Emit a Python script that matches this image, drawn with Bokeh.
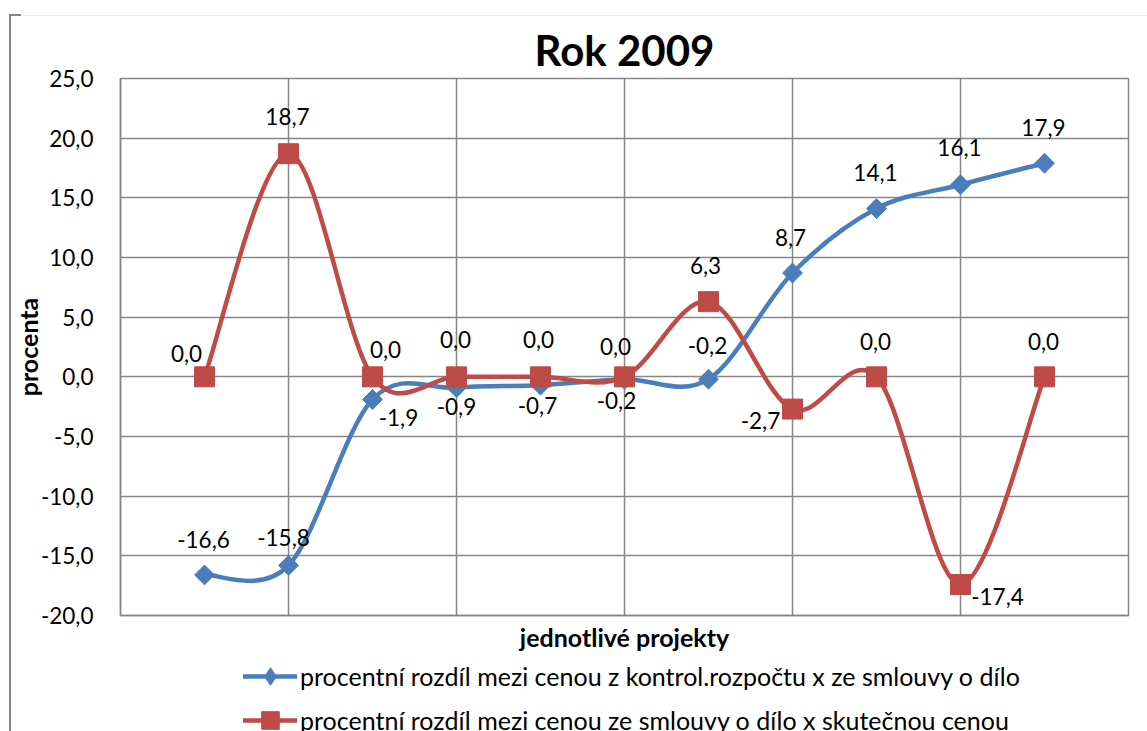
import numpy as np
from bokeh.plotting import figure
from bokeh.layouts import column
from bokeh.models import (ColumnDataSource, LabelSet, Legend, LegendItem, FixedTicker, Range1d,
                          InlineStyleSheet)
from bokeh.core.properties import value
from bokeh.embed import file_html
from bokeh.resources import INLINE

# ---------------- data ----------------
title_text = "Rok 2009"
y_axis_title = "procenta"
x_axis_title = "jednotlivé projekty"
series_names = [
    "procentní rozdíl mezi cenou z kontrol.rozpočtu x ze smlouvy o dílo",
    "procentní rozdíl mezi cenou ze smlouvy o dílo x skutečnou cenou",
]
projects = [1, 2, 3, 4, 5, 6, 7, 8, 9, 10, 11]
blue_values = [-16.6, -15.8, -1.9, -0.9, -0.7, -0.2, -0.2, 8.7, 14.1, 16.1, 17.9]
red_values = [0.0, 18.7, 0.0, 0.0, 0.0, 0.0, 6.3, -2.7, 0.0, -17.4, 0.0]
y_ticks = [-20, -15, -10, -5, 0, 5, 10, 15, 20, 25]
y_tick_labels = ["-20,0", "-15,0", "-10,0", "-5,0", "0,0", "5,0", "10,0", "15,0", "20,0", "25,0"]
x_grid_ticks = [0, 2, 4, 6, 8, 10, 12]

# label offsets (screen px) – styling only
blue_dx = [-1, -5, 26, 0, -3, -8, -1, -2, -1, -1, -1]
blue_dy = [35, 28, -18, -19, -20, -21, 34, 36, 36, 37, 36]
red_dx = [-18, -1, 13, -1, -2, -9, -3, -32, -1, 37, -1]
red_dy = [23, 37, 27, 37, 37, 30, 36, -11, 35, -12, 35]

BLUE = "#4A7EBB"
RED = "#BE4B48"
GRID = "#868686"
FONT = "Lato"
W = 1147
MAIN_H = 655
LEG_H = 76


def smooth_segments(xs, ys):
    x = np.asarray(xs, float)
    y = np.asarray(ys, float)
    n = len(x)
    xp = np.concatenate([[x[0]], x, [x[-1]]])
    yp = np.concatenate([[y[0]], y, [y[-1]]])
    return dict(
        x0=x[:-1], y0=y[:-1], x1=x[1:], y1=y[1:],
        cx0=x[:-1] + (xp[2:n + 1] - xp[0:n - 1]) / 6.0,
        cy0=y[:-1] + (yp[2:n + 1] - yp[0:n - 1]) / 6.0,
        cx1=x[1:] - (xp[3:n + 2] - xp[1:n]) / 6.0,
        cy1=y[1:] - (yp[3:n + 2] - yp[1:n]) / 6.0,
    )


def fmt(v):
    return f"{v:.1f}".replace(".", ",")


def add_series(fig, vals, color, marker, size, angle):
    seg = ColumnDataSource(smooth_segments(projects, vals))
    ln = fig.bezier(x0="x0", y0="y0", x1="x1", y1="y1", cx0="cx0", cy0="cy0", cx1="cx1", cy1="cy1",
                    source=seg, line_color=color, line_width=4.5, line_cap="round")
    src = ColumnDataSource(dict(x=projects, y=vals))
    mk = fig.scatter(x="x", y="y", source=src, marker=marker, size=size, angle=angle,
                     fill_color=color, line_color=color, line_width=1)
    return [ln, mk]


# ---------------- main chart ----------------
p = figure(width=W, height=MAIN_H, output_backend="svg", toolbar_location=None,
           x_range=Range1d(0, 12), y_range=Range1d(-20, 25),
           min_border_left=120, min_border_right=19, min_border_top=78, min_border_bottom=40,
           background_fill_color="white", border_fill_color="white")

p.title.text = title_text
p.title.align = "center"
p.title.text_font = FONT
p.title.text_font_size = "42px"
p.title.text_font_style = "bold"
p.title.text_color = "black"
p.title.standoff = 8

p.outline_line_color = GRID
p.outline_line_width = 1.5

p.yaxis.ticker = FixedTicker(ticks=y_ticks)
p.yaxis.major_label_overrides = {t: l for t, l in zip(y_ticks, y_tick_labels)}
p.yaxis.major_label_text_font = FONT
p.yaxis.major_label_text_font_size = "22.5px"
p.yaxis.major_label_text_color = "black"
p.yaxis.major_label_standoff = 27
p.yaxis.axis_label = y_axis_title
p.yaxis.axis_label_text_font = FONT
p.yaxis.axis_label_text_font_size = "25px"
p.yaxis.axis_label_text_font_style = "bold"
p.yaxis.axis_label_text_color = "black"
p.yaxis.axis_label_standoff = -5

p.xaxis.ticker = FixedTicker(ticks=[])
p.xgrid.ticker = FixedTicker(ticks=x_grid_ticks)
p.xaxis.major_label_standoff = 0
p.xaxis.axis_label = x_axis_title
p.xaxis.axis_label_text_font = FONT
p.xaxis.axis_label_text_font_size = "25px"
p.xaxis.axis_label_text_font_style = "bold"
p.xaxis.axis_label_text_color = "black"
p.xaxis.axis_label_standoff = 6

for ax in (p.xaxis, p.yaxis):
    ax.major_tick_out = 0
    ax.major_tick_in = 0
    ax.minor_tick_out = 0
    ax.minor_tick_in = 0
    ax.axis_line_color = GRID
    ax.axis_line_width = 1.5

p.grid.grid_line_color = GRID
p.grid.grid_line_width = 1.5
p.grid.grid_line_alpha = 1.0

add_series(p, blue_values, BLUE, "square", 14, np.pi / 4)
add_series(p, red_values, RED, "square", 20, 0.0)

for vals, dx, dy in [(blue_values, blue_dx, blue_dy), (red_values, red_dx, red_dy)]:
    lsrc = ColumnDataSource(dict(x=projects, y=vals, t=[fmt(v) for v in vals], dx=dx, dy=dy))
    labels = LabelSet(x="x", y="y", text="t", source=lsrc, x_offset="dx", y_offset="dy",
                      text_align="center", text_baseline="middle", text_font=value(FONT),
                      text_font_size=value("22.5px"), text_color="black")
    p.add_layout(labels)

# ---------------- legend strip ----------------
lg = figure(width=W, height=LEG_H, output_backend="svg", toolbar_location=None,
            x_range=Range1d(100, 101), y_range=Range1d(100, 101),
            x_axis_location=None, y_axis_location=None, min_border=0,
            outline_line_color=None, background_fill_color="white", border_fill_color="white")
lg.grid.visible = False
leg_blue = add_series(lg, blue_values, BLUE, "diamond", 14, 0.0)
leg_red = add_series(lg, red_values, RED, "square", 20, 0.0)

legend = Legend(items=[LegendItem(label=series_names[0], renderers=leg_blue),
                       LegendItem(label=series_names[1], renderers=leg_red)],
                location=(123, -11), orientation="vertical", glyph_width=54, glyph_height=44,
                label_height=38, spacing=-6, padding=0, margin=0, border_line_color=None,
                background_fill_alpha=0, label_text_font=FONT, label_text_font_size="25px",
                label_text_color="black", label_standoff=3)
lg.add_layout(legend)

frame_css = InlineStyleSheet(css="""
:host::after {
  content: ""; position: absolute; left: 9px; top: 14px; width: 12px; height: 730px;
  border-left: 2px solid #858585; border-top: 2px solid #858585; box-sizing: border-box;
  z-index: 10; pointer-events: none;
}
:host::before {
  content: ""; position: absolute; left: 21px; top: 15px; width: 1126px; height: 0px;
  border-top: 1px solid #ececec; z-index: 10; pointer-events: none;
}
""")

layout = column(p, lg, spacing=0, stylesheets=[frame_css])
open("out.html", "w").write(file_html(layout, INLINE))
